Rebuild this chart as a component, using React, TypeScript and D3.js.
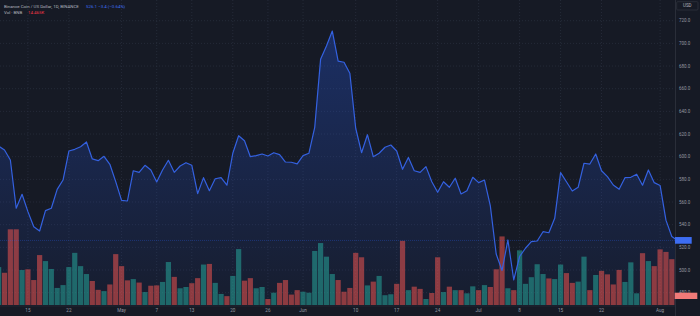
import React from 'react';
import * as d3 from 'd3';

// BNB/USD daily closes, first entry = 2024-04-10 (partly off-chart), last = 2024-08-04 (behind price scale)
const START_DATE = '2024-04-10';
const CLOSE = [
  609.4,
  605.9, 597.1, 554.5, 566.8, 551.5, 538.2, 534.4, 552.4, 554.5, 571.2,
  579.4, 605.0, 606.5, 608.8, 613.0, 598.0, 596.5, 600.3, 593.3, 578.0,
  561.5, 560.9, 587.6, 586.2, 592.4, 588.3, 577.7, 588.3, 596.8, 586.2,
  591.8, 594.7, 592.4, 567.4, 581.5, 570.0, 580.5, 581.5, 574.8, 603.0,
  618.5, 614.1, 600.0, 600.9, 602.4, 600.6, 603.5, 601.8, 595.3, 595.1,
  593.6, 600.9, 603.0, 625.9, 685.9, 697.7, 710.9, 684.4, 683.3, 673.6,
  625.1, 603.5, 619.4, 600.0, 603.0, 608.3, 610.3, 605.0, 588.9, 599.3,
  587.6, 586.2, 591.2, 577.9, 568.6, 577.9, 573.0, 581.0, 567.1, 570.0,
  581.8, 577.1, 579.4, 556.5, 514.1, 499.6, 526.5, 491.2, 511.9, 519.2,
  525.0, 525.6, 533.8, 532.9, 545.6, 585.9, 577.9, 569.7, 573.0, 594.2,
  593.5, 602.4, 587.6, 582.4, 575.0, 571.2, 581.5, 581.8, 584.5, 574.8,
  588.3, 577.1, 574.6, 544.0, 529.5,
  526.1,
];
// volume in thousands of BNB
const VOLUME_K = [
  12.0,
  10.2, 23.95, 23.95, 11.07, 11.3, 7.9, 15.8, 13.9, 11.4, 5.4,
  6.3, 12.0, 16.5, 12.3, 9.8, 7.6, 4.8, 4.4, 6.5, 16.1,
  12.3, 7.8, 8.2, 7.1, 4.1, 6.1, 6.2, 7.3, 13.6, 8.9,
  5.3, 5.7, 6.9, 8.5, 12.8, 13.0, 7.0, 3.5, 2.8, 9.2,
  17.7, 7.7, 8.5, 5.3, 5.7, 1.9, 3.9, 7.0, 7.9, 3.3,
  4.7, 4.2, 3.9, 17.1, 19.6, 15.3, 9.8, 7.9, 4.2, 5.4,
  16.5, 15.1, 6.2, 7.4, 9.2, 3.1, 3.4, 6.7, 20.3, 4.7,
  5.8, 5.1, 1.9, 3.8, 15.1, 4.1, 5.8, 4.7, 4.7, 3.7,
  5.9, 4.7, 6.3, 5.7, 11.3, 21.7, 5.3, 4.7, 17.3, 6.7,
  8.8, 12.9, 9.8, 8.4, 8.2, 12.8, 10.1, 7.0, 7.4, 15.3,
  4.7, 9.5, 10.8, 9.7, 6.5, 11.1, 7.3, 13.5, 3.7, 16.4,
  13.9, 12.3, 17.6, 16.8, 14.5,
  14.465,
];
// u = up candle, d = down candle (same order as CLOSE)
const DIRECTION = [
  'u',
  'dddudddu', 'uu',
  'uuuuuddudd',
  'ddududduud',
  'uudduduudu',
  'uddu', 'udu', 'ddd',
  'duuuuuuddd',
  'ddudu', 'uuddu',
  'ddudduduu'.slice(0, 0) + 'dduddudud', 'u',
  'ududddud', 'uu',
  'uuuduudduu',
  'duddddu', 'uud',
  'udddd',
  'd',
].join('').split('');

const PRICE_TICKS = [480, 500, 520, 540, 560, 580, 600, 620, 640, 660, 680, 700, 720];
const TIME_TICK_DATES = [
  '2024-04-15', '2024-04-22', '2024-05-01', '2024-05-07', '2024-05-13', '2024-05-20', '2024-05-26', '2024-06-01',
  '2024-06-10', '2024-06-17', '2024-06-24', '2024-07-01', '2024-07-08', '2024-07-15', '2024-07-22', '2024-08-01',
];
const TIME_TICK_LABELS = ['15', '22', 'May', '7', '13', '20', '26', 'Jun', '10', '17', '24', 'Jul', '8', '15', '22', 'Aug'];

const LAST_PRICE = '526.1';
const CHANGE = '−3.4 (−0.64%)';
const LAST_VOLUME = '14.465K';

const W = 700;
const H = 316;
const PLOT_RIGHT = 675;
const PANE_BOTTOM = 305.5;
const FONT = 'Roboto, "Noto Sans", sans-serif';

export default function App() {
  const parse = d3.utcParse('%Y-%m-%d');
  const start = parse(START_DATE) as Date;
  const dates = CLOSE.map((_, i) => d3.utcDay.offset(start, i));
  const data = CLOSE.map((c, i) => ({ date: dates[i], close: c, vol: VOLUME_K[i], dir: DIRECTION[i] }));

  const x = d3
    .scaleUtc()
    .domain([parse('2024-04-11') as Date, parse('2024-08-03') as Date])
    .range([4.5, 671.8]);
  const y = d3.scaleLinear().domain([500, 720]).range([270, 20.7]);
  const yv = d3.scaleLinear().domain([0, 30]).range([305, 305 - 94.8]);

  const line = d3
    .line<any>()
    .x((d) => x(d.date))
    .y((d) => y(d.close));
  const area = d3
    .area<any>()
    .x((d) => x(d.date))
    .y0(PANE_BOTTOM)
    .y1((d) => y(d.close));

  const barW = 5.2;
  const lastY = y(+LAST_PRICE);

  return (
    <svg
      width={W}
      height={H}
      style={{ position: 'fixed', left: 0, top: 0, display: 'block' }}
      fontFamily={FONT}
    >
      <defs>
        <clipPath id="pane">
          <rect x={0} y={0} width={PLOT_RIGHT} height={PANE_BOTTOM} />
        </clipPath>
        <linearGradient id="areaGrad" gradientUnits="userSpaceOnUse" x1={0} y1={20} x2={0} y2={PANE_BOTTOM}>
          <stop offset="0%" stopColor="rgb(41,98,255)" stopOpacity={0.3} />
          <stop offset="100%" stopColor="rgb(41,98,255)" stopOpacity={0.04} />
        </linearGradient>
      </defs>
      <rect x={0} y={0} width={W} height={H} fill="#161a25" />

      {/* grid */}
      <g stroke="#2a2f3d" strokeWidth={0.8} strokeDasharray="1 2">
        {PRICE_TICKS.map((p) => (
          <line key={'h' + p} x1={0} x2={PLOT_RIGHT} y1={y(p)} y2={y(p)} />
        ))}
        {TIME_TICK_DATES.map((d) => {
          const xx = x(parse(d) as Date);
          return <line key={'v' + d} x1={xx} x2={xx} y1={0} y2={PANE_BOTTOM} />;
        })}
      </g>

      <g clipPath="url(#pane)">
        <path d={area(data) || ''} fill="url(#areaGrad)" />
        {data.map((d, i) => (
          <rect
            key={'b' + i}
            x={x(d.date) - barW / 2}
            y={yv(d.vol)}
            width={barW}
            height={305 - yv(d.vol)}
            fill={d.dir === 'u' ? 'rgba(38,166,154,0.55)' : 'rgba(239,83,80,0.55)'}
          />
        ))}
        <line
          x1={0}
          x2={PLOT_RIGHT}
          y1={lastY}
          y2={lastY}
          stroke="#2962ff"
          strokeOpacity={0.3}
          strokeWidth={1}
          strokeDasharray="1 1"
        />
        <path d={line(data) || ''} fill="none" stroke="#3461e0" strokeWidth={1.2} strokeLinejoin="round" />
      </g>

      {/* axis borders */}
      <line x1={PLOT_RIGHT + 0.5} x2={PLOT_RIGHT + 0.5} y1={0} y2={H} stroke="#2a2e39" strokeWidth={1} />
      <line x1={0} x2={PLOT_RIGHT} y1={306} y2={306} stroke="#2a2e39" strokeWidth={0.6} />

      {/* price axis labels */}
      <g fontSize={4.5} fill="#9598a1">
        {PRICE_TICKS.map((p) => (
          <text key={'pl' + p} x={679} y={y(p) + 1.6}>
            {d3.format('.1f')(p)}
          </text>
        ))}
      </g>
      <rect x={676.7} y={1.7} width={21.3} height={8.3} fill="#161a25" stroke="#363a45" strokeWidth={0.6} rx={1} />
      <text x={687.3} y={7.4} fontSize={4.5} fill="#b2b5be" textAnchor="middle">
        USD
      </text>

      {/* last price and last volume badges */}
      <rect x={675} y={lastY - 3.4} width={16.7} height={6.7} fill="#3d6df2" />
      <rect x={674.7} y={292.7} width={22.6} height={6.3} fill="#f07a78" />

      {/* time axis labels */}
      <g fontSize={4.6} fill="#9598a1" textAnchor="middle">
        {TIME_TICK_DATES.map((d, i) => (
          <text key={'tl' + d} x={x(parse(d) as Date)} y={312}>
            {TIME_TICK_LABELS[i]}
          </text>
        ))}
      </g>

      {/* legend */}
      <g fontSize={4.4}>
        <text x={4} y={7.6} fill="#b2b5be">
          Binance Coin / US Dollar, 1D, BINANCE
        </text>
        <text x={86} y={7.6} fill="#3f6ff0">
          {LAST_PRICE} {CHANGE}
        </text>
        <text x={4} y={13.8} fill="#b2b5be">
          Vol · BNB
        </text>
        <text x={28} y={13.8} fill="#f23645">
          {LAST_VOLUME}
        </text>
      </g>
    </svg>
  );
}
